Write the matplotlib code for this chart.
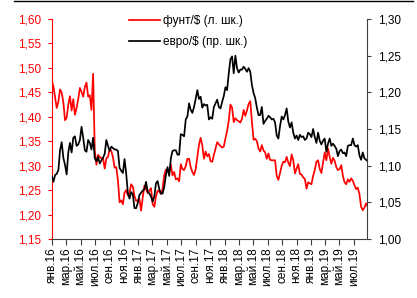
import matplotlib
matplotlib.use('Agg')
import matplotlib.pyplot as plt
import matplotlib.ticker as mticker
from matplotlib.lines import Line2D
import pandas as pd
import numpy as np

plt.rcParams['font.family'] = ['Liberation Sans', 'DejaVu Sans']

# weekly observations (Thursdays), 31.12.2015 - 29.08.2019
dates = pd.date_range('2015-12-31', '2019-08-29', freq='W-THU')

gbp_usd = [
    1.474,
    1.462, 1.440, 1.418, 1.431,
    1.456, 1.449, 1.430, 1.393,
    1.398, 1.425, 1.442, 1.413, 1.436,
    1.404, 1.418, 1.436, 1.459,
    1.451, 1.441, 1.461, 1.470,
    1.441, 1.444, 1.414, 1.488, 1.331,
    1.302, 1.322, 1.318, 1.315,
    1.315, 1.294, 1.315, 1.318,
    1.334, 1.330, 1.317, 1.296, 1.297,
    1.270, 1.225, 1.229, 1.221,
    1.245, 1.250, 1.239, 1.244,
    1.262, 1.257, 1.238, 1.228, 1.229,
    # 2017
    1.232, 1.208, 1.235, 1.259,
    1.252, 1.244, 1.249, 1.254,
    1.221, 1.216, 1.237, 1.249, 1.247,
    1.242, 1.253, 1.281, 1.292,
    1.289, 1.287, 1.302, 1.280,
    1.287, 1.272, 1.274, 1.268, 1.303,
    1.293, 1.291, 1.299, 1.314,
    1.314, 1.297, 1.287, 1.281, 1.293,
    1.318, 1.343, 1.357, 1.341,
    1.314, 1.329, 1.319, 1.324,
    1.309, 1.308, 1.322, 1.335, 1.348,
    1.344, 1.340, 1.337, 1.339,
    # 2018
    1.356, 1.371, 1.392, 1.425,
    1.419, 1.389, 1.397, 1.393,
    1.391, 1.388, 1.396, 1.414, 1.402,
    1.413, 1.426, 1.432, 1.390,
    1.353, 1.355, 1.350, 1.335, 1.329,
    1.342, 1.331, 1.327, 1.314,
    1.325, 1.312, 1.311, 1.311,
    1.311, 1.279, 1.271, 1.285, 1.300,
    1.308, 1.307, 1.318, 1.306,
    1.299, 1.323, 1.311, 1.284,
    1.294, 1.303, 1.283, 1.282, 1.276,
    1.273, 1.253, 1.266, 1.264,
    # 2019
    1.262, 1.279, 1.291, 1.308, 1.311,
    1.293, 1.285, 1.306, 1.327,
    1.311, 1.335, 1.318, 1.304,
    1.316, 1.310, 1.297, 1.291,
    1.293, 1.301, 1.279, 1.266, 1.262,
    1.272, 1.267, 1.274, 1.269,
    1.260, 1.252, 1.255, 1.242,
    1.216, 1.209, 1.214, 1.223, 1.216,
]

eur_usd = [
    1.086,
    1.078, 1.087, 1.089, 1.094,
    1.121, 1.132, 1.111, 1.101,
    1.088, 1.118, 1.131, 1.118, 1.138,
    1.140, 1.127, 1.129, 1.135,
    1.153, 1.138, 1.121, 1.119,
    1.135, 1.131, 1.122, 1.138, 1.110,
    1.106, 1.112, 1.103, 1.107,
    1.111, 1.116, 1.135, 1.127,
    1.120, 1.126, 1.124, 1.122, 1.122,
    1.120, 1.097, 1.093, 1.090,
    1.109, 1.089, 1.063, 1.055,
    1.064, 1.061, 1.042, 1.042, 1.049,
    # 2017
    1.060, 1.063, 1.066, 1.068,
    1.078, 1.064, 1.062, 1.058,
    1.051, 1.058, 1.076, 1.079, 1.068,
    1.062, 1.062, 1.071, 1.087,
    1.098, 1.086, 1.110, 1.120,
    1.121, 1.121, 1.115, 1.115, 1.143,
    1.142, 1.140, 1.163, 1.167,
    1.185, 1.176, 1.172, 1.180, 1.191,
    1.203, 1.191, 1.194, 1.179,
    1.184, 1.182, 1.183, 1.163,
    1.166, 1.164, 1.180, 1.185, 1.190,
    1.180, 1.178, 1.187, 1.195,
    # 2018
    1.207, 1.203, 1.226, 1.245,
    1.249, 1.226, 1.250, 1.233,
    1.227, 1.231, 1.231, 1.235, 1.232,
    1.228, 1.233, 1.228, 1.210,
    1.199, 1.192, 1.179, 1.169, 1.169,
    1.180, 1.157, 1.161, 1.164,
    1.168, 1.166, 1.163, 1.164,
    1.159, 1.141, 1.137, 1.154, 1.167,
    1.163, 1.169, 1.178, 1.160,
    1.152, 1.159, 1.145, 1.137,
    1.141, 1.135, 1.142, 1.139, 1.140,
    1.135, 1.137, 1.145, 1.143,
    # 2019
    1.139, 1.150, 1.139, 1.131, 1.145,
    1.134, 1.129, 1.134, 1.137,
    1.119, 1.130, 1.137, 1.127,
    1.130, 1.127, 1.123, 1.113,
    1.120, 1.122, 1.117, 1.118, 1.113,
    1.127, 1.128, 1.128, 1.137,
    1.128, 1.126, 1.128, 1.114,
    1.108, 1.118, 1.110, 1.108, 1.106,
]

tick_dates = pd.date_range('2016-01-01', '2019-07-01', freq='2MS')
tick_labels = ['янв.16', 'мар.16', 'май.16', 'июл.16', 'сен.16', 'ноя.16',
               'янв.17', 'мар.17', 'май.17', 'июл.17', 'сен.17', 'ноя.17',
               'янв.18', 'мар.18', 'май.18', 'июл.18', 'сен.18', 'ноя.18',
               'янв.19', 'мар.19', 'май.19', 'июл.19']

left_ticks = [1.15, 1.20, 1.25, 1.30, 1.35, 1.40, 1.45, 1.50, 1.55, 1.60]
right_ticks = [1.00, 1.05, 1.10, 1.15, 1.20, 1.25, 1.30]

label_gbp = 'фунт/$ (л. шк.)'
label_eur = 'евро/$ (пр. шк.)'

RED = '#FF0000'
AXC = '#404040'
FS = 8.5

fig = plt.figure(figsize=(4.17, 2.98), dpi=100)
ax = fig.add_axes([52/417, 1-239/298, (367-52)/417, (239-19)/298])
ax2 = ax.twinx()

l1, = ax.plot(dates, gbp_usd, color=RED, lw=1.25, label=label_gbp)
l2, = ax2.plot(dates, eur_usd, color='black', lw=1.25, label=label_eur)

ax.set_xlim(pd.Timestamp('2016-01-01'), pd.Timestamp('2019-08-26'))
ax.set_ylim(1.15, 1.60)
ax2.set_ylim(1.00, 1.30)
ax.set_yticks(left_ticks)
ax2.set_yticks(right_ticks)
fmt = mticker.FuncFormatter(lambda v, p: f'{v:.2f}'.replace('.', ','))
ax.yaxis.set_major_formatter(fmt)
ax2.yaxis.set_major_formatter(fmt)

ax.set_xticks(tick_dates)
ax.set_xticklabels(tick_labels, rotation=90, fontsize=FS, color='black')

for s in ['top', 'right']:
    ax.spines[s].set_visible(False)
for s in ['top', 'left', 'bottom']:
    ax2.spines[s].set_visible(False)
ax.spines['left'].set_color(RED)
ax.spines['bottom'].set_color(AXC)
ax2.spines['right'].set_color(AXC)

ax.tick_params(axis='y', colors=RED, labelsize=FS, length=3, direction='out', pad=5)
ax.tick_params(axis='x', color=AXC, length=4, direction='out', pad=2)
ax2.tick_params(axis='y', colors='black', labelsize=FS, length=3, direction='out', pad=5)
ax2.tick_params(axis='y', color=AXC)

ax2.legend(handles=[l1, l2], loc='upper left', bbox_to_anchor=(129/417, 1-15/298),
           bbox_transform=fig.transFigure, frameon=False, fontsize=FS,
           handlelength=2.6, handletextpad=0.3, labelspacing=0.75,
           borderpad=0, borderaxespad=0)

fig.add_artist(Line2D([14/417, 413/417], [0.997, 0.997], transform=fig.transFigure,
                      color='black', lw=1.0))

fig.savefig('out.png', dpi=100)
